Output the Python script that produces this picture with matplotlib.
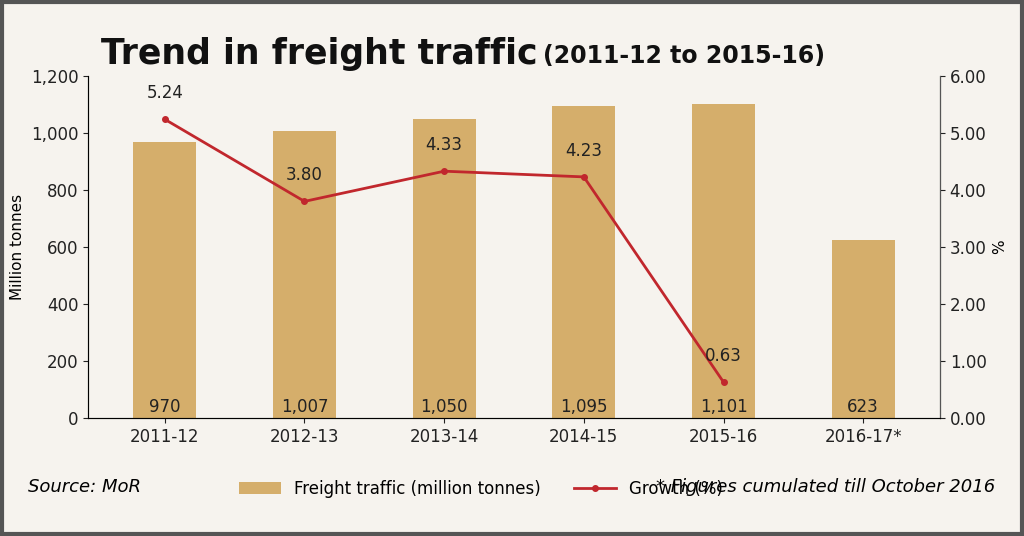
import matplotlib
matplotlib.use("Agg")
import matplotlib.pyplot as plt
from matplotlib.patches import Rectangle

plt.rcParams['font.family'] = ['Liberation Sans Narrow', 'DejaVu Sans']

years = ["2011-12", "2012-13", "2013-14", "2014-15", "2015-16", "2016-17*"]
freight = [970, 1007, 1050, 1095, 1101, 623]
growth_years = ["2011-12", "2012-13", "2013-14", "2014-15", "2015-16"]
growth = [5.24, 3.80, 4.33, 4.23, 0.63]

bg = "#f6f3ee"
bar_c = "#d5ae6b"
line_c = "#c1272d"

fig = plt.figure(figsize=(10.24, 5.36), dpi=100, facecolor=bg)
fig.patches.append(Rectangle((0.002, 0.003), 0.996, 0.994, transform=fig.transFigure,
                             fill=False, edgecolor="#555555", lw=3))
ax = fig.add_axes([88/1024, 1-418/536, (940-88)/1024, (418-76)/536])
ax.set_facecolor(bg)
x = list(range(len(years)))
bars = ax.bar(x, freight, width=0.45, color=bar_c, label="Freight traffic (million tonnes)")
for xi, v in zip(x, freight):
    ax.text(xi, 40, f"{v:,}", ha="center", va="center", fontsize=12, color="#222222")
ax.set_ylim(0, 1200)
ax.set_yticks(range(0, 1201, 200))
ax.set_yticklabels([f"{v:,}" for v in range(0, 1201, 200)])
ax.set_xlim(-0.55, 5.55)
ax.set_xticks(x)
ax.set_xticklabels(years)
ax.set_ylabel("Million tonnes", fontsize=11)
ax.spines["top"].set_visible(False)
ax.spines["left"].set_color("#555555")
ax.spines["bottom"].set_color("#555555")
ax.tick_params(labelsize=12, colors="#222222")

ax2 = ax.twinx()
gx = [years.index(y) for y in growth_years]
ln, = ax2.plot(gx, growth, color=line_c, lw=2, marker="o", ms=4, label="Growth (%)")
for xi, v in zip(gx, growth):
    ax2.text(xi, v + 0.3, f"{v:.2f}", ha="center", va="bottom", fontsize=12, color="#222222")
ax2.set_ylim(0, 6)
ax2.set_yticks([i for i in range(7)])
ax2.set_yticklabels([f"{i:.2f}" for i in range(7)])
ax2.set_ylabel("%", fontsize=11)
ax2.spines["top"].set_visible(False)
ax2.spines["right"].set_color("#555555")
ax2.tick_params(labelsize=12, colors="#222222")

fig.text(0.525, 0.90, "Trend in freight traffic", ha="right", va="center", fontsize=25,
         fontweight="bold", color="#111111")
fig.text(0.53, 0.895, "(2011-12 to 2015-16)", ha="left", va="center", fontsize=17,
         fontweight="bold", color="#111111")
fig.text(28/1024, 1-487/536, "Source: MoR", fontsize=13, style="italic", va="center")
fig.text(995/1024, 1-487/536, "* Figures cumulated till October 2016", fontsize=13,
         style="italic", ha="right", va="center")
fig.legend(handles=[bars, ln], loc="center", bbox_to_anchor=(0.47, 1-489/536), ncol=2,
           frameon=False, fontsize=12, handlelength=2.5, columnspacing=2)
fig.savefig("out.png", dpi=100, facecolor=bg)
